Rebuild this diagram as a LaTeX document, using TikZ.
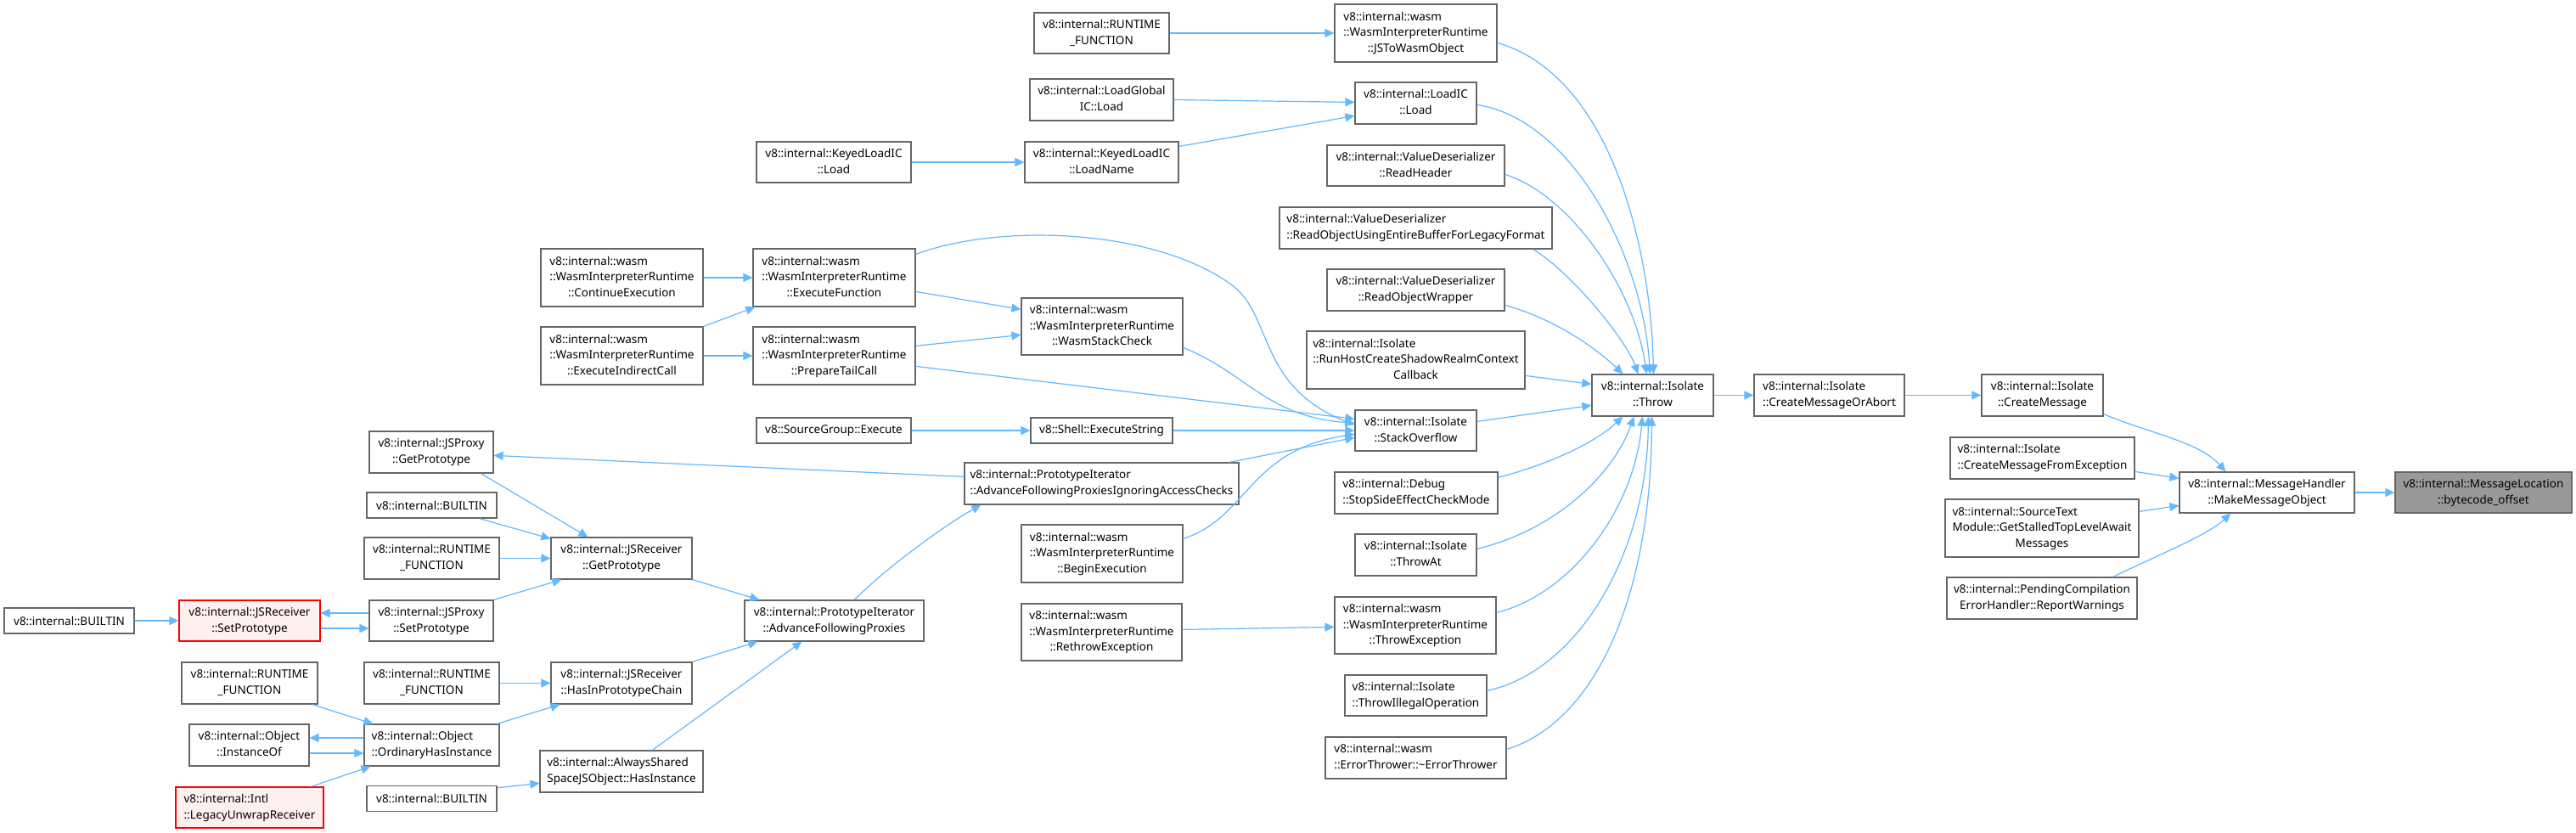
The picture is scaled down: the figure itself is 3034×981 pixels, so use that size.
\documentclass[tikz,border=0pt]{standalone}
\usepackage{fontspec}
\setmainfont{Noto Sans}
\usetikzlibrary{arrows.meta,calc}
\definecolor{edgec}{HTML}{63B8FF}
\definecolor{boxc}{HTML}{666666}
\definecolor{redfill}{HTML}{FFF0F0}
\definecolor{grayfill}{HTML}{999999}
\newcommand{\fs}{\fontsize{13.5}{18.7}\selectfont}
\newcommand{\Ll}[1]{\multicolumn{1}{@{}l@{}}{#1}}
\newcommand{\labB}[2]{\begin{tabular}{@{}c@{}}\Ll{#1}\\#2\end{tabular}}
\newcommand{\labC}[3]{\begin{tabular}{@{}c@{}}\Ll{#1}\\\Ll{#2}\\#3\end{tabular}}
\newcommand{\wasmlab}[1]{\labC{v8::internal::wasm}{::WasmInterpreterRuntime}{#1}}
\newcommand{\rtf}{\labB{v8::internal::RUNTIME}{\_FUNCTION}}
\tikzset{
  nb/.style 2 args={draw=boxc, line width=1.2pt, fill=white, inner sep=0pt,
    minimum width=#1, minimum height=#2, font=\fs, text=black},
  redn/.style={draw=red, fill=redfill},
  grayn/.style={fill=grayfill},
  conn/.style={draw=edgec, line width=1.2pt, -{Triangle[length=11pt,width=10pt]}},
}
\begin{document}
\begin{tikzpicture}[x=1pt,y=-1pt]
\path[fill=white] (0,0) rectangle (3034,981);
\useasboundingbox (0,0) rectangle (3034,981);
% column 1-2
\node[nb={153}{30}] (bl) at (81.5,731) {v8::internal::BUILTIN};
\node[nb={166}{48}, redn] (jrsp) at (294,731) {\labB{v8::internal::JSReceiver}{::SetPrototype}};
\node[nb={160}{49}] (rf2) at (294,804.5) {\rtf};
\node[nb={141}{49}] (inst) at (293.5,877.5) {\labB{v8::internal::Object}{::InstanceOf}};
\node[nb={174}{48}, redn] (legacy) at (294,951) {\labB{v8::internal::Intl}{::LegacyUnwrapReceiver}};
% column 3
\node[nb={146}{49}] (jpgp) at (508,532.5) {\labB{v8::internal::JSProxy}{::GetPrototype}};
\node[nb={153}{30}] (b3a) at (508.5,595) {v8::internal::BUILTIN};
\node[nb={159}{49}] (rf3a) at (508.5,657.5) {\rtf};
\node[nb={146}{48}] (jpsp) at (508,731) {\labB{v8::internal::JSProxy}{::SetPrototype}};
\node[nb={159}{49}] (rf3b) at (508.5,804.5) {\rtf};
\node[nb={159}{49}] (ohi) at (508.5,877.5) {\labB{v8::internal::Object}{::OrdinaryHasInstance}};
\node[nb={153}{30}] (b3b) at (508.5,940.5) {v8::internal::BUILTIN};
% column 4
\node[nb={191}{68}] (cont) at (732.5,327) {\wasmlab{::ContinueExecution}};
\node[nb={191}{68}] (indir) at (732.5,419) {\wasmlab{::ExecuteIndirectCall}};
\node[nb={166}{49}] (jrgp) at (732,657.5) {\labB{v8::internal::JSReceiver}{::GetPrototype}};
\node[nb={166}{49}] (hipc) at (732,804.5) {\labB{v8::internal::JSReceiver}{::HasInPrototypeChain}};
\node[nb={192}{49}] (ash) at (732,908.5) {\labB{v8::internal::AlwaysShared}{SpaceJSObject::HasInstance}};
% column 5
\node[nb={182}{48}] (klic) at (982,191) {\labB{v8::internal::KeyedLoadIC}{::Load}};
\node[nb={191}{68}] (exf) at (982.5,327) {\wasmlab{::ExecuteFunction}};
\node[nb={191}{68}] (ptc) at (982.5,419) {\wasmlab{::PrepareTailCall}};
\node[nb={182}{30}] (sge) at (982,507) {v8::SourceGroup::Execute};
\node[nb={211}{48}] (afp) at (982.5,731) {\labB{v8::internal::PrototypeIterator}{::AdvanceFollowingProxies}};
% column 6
\node[nb={159}{48}] (rft) at (1297.5,39) {\rtf};
\node[nb={169}{49}] (lgic) at (1297.5,117.5) {\labB{v8::internal::LoadGlobal}{IC::Load}};
\node[nb={181}{48}] (klln) at (1297.5,191) {\labB{v8::internal::KeyedLoadIC}{::LoadName}};
\node[nb={190}{67}] (wsc) at (1298,384.5) {\wasmlab{::WasmStackCheck}};
\node[nb={167}{30}] (ses) at (1297.5,507) {v8::Shell::ExecuteString};
\node[nb={323}{49}] (afpi) at (1297.5,569.5) {\labB{v8::internal::PrototypeIterator}{::AdvanceFollowingProxiesIgnoringAccessChecks}};
\node[nb={190}{68}] (beg) at (1298,652) {\wasmlab{::BeginExecution}};
\node[nb={189}{67}] (rethrow) at (1297.5,744.5) {\wasmlab{::RethrowException}};
% column 7
\node[nb={191}{68}] (jtw) at (1667.5,39) {\wasmlab{::JSToWasmObject}};
\node[nb={143}{49}] (lic) at (1667.5,121.5) {\labB{v8::internal::LoadIC}{::Load}};
\node[nb={209}{48}] (rh) at (1667.5,195) {\labB{v8::internal::ValueDeserializer}{::ReadHeader}};
\node[nb={321}{49}] (robl) at (1667.5,268.5) {\labB{v8::internal::ValueDeserializer}{::ReadObjectUsingEntireBufferForLegacyFormat}};
\node[nb={209}{49}] (row) at (1667.5,341.5) {\labB{v8::internal::ValueDeserializer}{::ReadObjectWrapper}};
\node[nb={257}{68}] (rhc) at (1667.5,424) {\labC{v8::internal::Isolate}{::RunHostCreateShadowRealmContext}{Callback}};
\node[nb={143}{48}] (so) at (1667.5,507) {\labB{v8::internal::Isolate}{::StackOverflow}};
\node[nb={192}{49}] (ssecm) at (1668,580.5) {\labB{v8::internal::Debug}{::StopSideEffectCheckMode}};
\node[nb={143}{49}] (ta) at (1667.5,653.5) {\labB{v8::internal::Isolate}{::ThrowAt}};
\node[nb={190}{67}] (te) at (1667,736.5) {\wasmlab{::ThrowException}};
\node[nb={167}{48}] (tio) at (1667.5,819) {\labB{v8::internal::Isolate}{::ThrowIllegalOperation}};
\node[nb={213}{49}] (et) at (1667.5,892.5) {\labB{v8::internal::wasm}{::ErrorThrower::\textasciitilde ErrorThrower}};
% right part
\node[nb={143}{49}] (thr) at (1946.5,465.5) {\labB{v8::internal::Isolate}{::Throw}};
\node[nb={177}{49}] (cmoa) at (2154.5,465.5) {\labB{v8::internal::Isolate}{::CreateMessageOrAbort}};
\node[nb={143}{49}] (cm) at (2405.5,465.5) {\labB{v8::internal::Isolate}{::CreateMessage}};
\node[nb={217}{49}] (cmfe) at (2405.5,539.5) {\labB{v8::internal::Isolate}{::CreateMessageFromException}};
\node[nb={228}{68}] (gstl) at (2405,622) {\labC{v8::internal::SourceText}{Module::GetStalledTopLevelAwait}{Messages}};
\node[nb={224}{49}] (rw) at (2405,704.5) {\labB{v8::internal::PendingCompilation}{ErrorHandler::ReportWarnings}};
\node[nb={206}{48}] (mmo) at (2670,580) {\labB{v8::internal::MessageHandler}{::MakeMessageObject}};
\node[nb={208}{48}, grayn] (bo) at (2925,580) {\labB{v8::internal::MessageLocation}{::bytecode\_offset}};
% edges, left part
\draw[conn] (bl.east) -- (jrsp.west);
\draw[conn] ($(jpsp.west)+(0,-9)$) -- ($(jrsp.east)+(0,-9)$);
\draw[conn] ($(jrsp.east)+(0,9)$) -- ($(jpsp.west)+(0,9)$);
\draw[conn] (jpsp.north east) -- ($(jrgp.south west)+(13,0)$);
\draw[conn] ($(jpgp.south west)+(132,0)$) -- ($(jrgp.north west)+(44,0)$);
\draw[conn] ($(b3a.south west)+(133,0)$) -- ($(jrgp.north west)+(0,2)$);
\draw[conn] (rf3a.east) -- (jrgp.west);
\draw[conn] (jrgp.south east) -- ($(afp.north west)+(18,0)$);
\draw[conn] ($(rf2.south east)+(-7,0)$) -- ($(ohi.north west)+(11,0)$);
\draw[conn] ($(ohi.west)+(0,-8.5)$) -- ($(inst.east)+(0,-8.5)$);
\draw[conn] ($(inst.east)+(0,9.5)$) -- ($(ohi.west)+(0,9.5)$);
\draw[conn] ($(legacy.north west)+(160,0)$) -- ($(ohi.south west)+(8,0)$);
\draw[conn] (rf3b.east) -- (hipc.west);
\draw[conn] ($(ohi.north east)+(-3,0)$) -- ($(hipc.south west)+(11,0)$);
\draw[conn] (hipc.north east) -- ($(afp.south west)+(16,0)$);
\draw[conn] ($(b3b.north east)+(0,3)$) -- ($(ash.north west)+(0,39)$);
\draw[conn] ($(ash.north west)+(133,0)$) -- ($(afp.south west)+(68,0)$);
\draw[conn] ($(afp.north west)+(130,0)$) .. controls (1040,672) and (1110,620) .. ($(afpi.south west)+(20,0)$);
\draw[conn] ($(afpi.north west)+(0,17)$) -- ($(jpgp.north east)+(0,29)$);
% middle
\draw[conn] (klic.east) -- (klln.west);
\draw[conn] (lgic.east) -- ($(lic.north west)+(0,24)$);
\draw[conn] ($(klln.north east)+(0,6)$) -- ($(lic.north west)+(0,40)$);
\draw[conn] (rft.east) -- (jtw.west);
\draw[conn] (cont.east) -- (exf.west);
\draw[conn] (indir.north east) -- ($(exf.south west)+(3,0)$);
\draw[conn] (indir.east) -- (ptc.west);
\draw[conn] ($(exf.north east)+(0,51)$) -- ($(wsc.north west)+(0,14)$);
\draw[conn] ($(ptc.north east)+(0,23)$) -- ($(wsc.north west)+(0,44)$);
\draw[conn] ($(ptc.north east)+(0,47)$) -- ($(so.north west)+(0,11)$);
\draw[conn] ($(exf.north east)+(0,7)$) .. controls (1180,262) and (1360,270) .. (1450,335) .. controls (1500,371) and (1480,455) .. ($(so.north west)+(0,18)$);
\draw[conn] ($(wsc.north east)+(0,59)$) .. controls (1470,440) and (1490,490) .. ($(so.north west)+(0,16)$);
\draw[conn] (sge.east) -- (ses.west);
\draw[conn] (ses.east) -- (so.west);
\draw[conn] ($(afpi.north east)+(-12,0)$) -- ($(so.north west)+(0,33)$);
\draw[conn] ($(beg.north east)+(0,17)$) .. controls (1470,610) and (1470,530) .. ($(so.north west)+(0,29)$);
\draw[conn] ($(rethrow.north east)+(0,31)$) -- ($(te.north west)+(0,36)$);
% into Throw
\draw[conn] ($(jtw.north east)+(0,46)$) .. controls (1900,90) and (1945,300) .. ($(thr.north west)+(73,0)$);
\draw[conn] ($(lic.north east)+(0,27)$) .. controls (1850,140) and (1935,300) .. ($(thr.north west)+(69,0)$);
\draw[conn] ($(rh.north east)+(0,35)$) .. controls (1850,230) and (1925,340) .. ($(thr.north west)+(65,0)$);
\draw[conn] ($(robl.south east)+(-23,0)$) .. controls (1850,320) and (1915,400) .. ($(thr.north west)+(55,0)$);
\draw[conn] ($(row.north east)+(0,43)$) .. controls (1830,375) and (1880,410) .. ($(thr.north west)+(37,0)$);
\draw[conn] ($(rhc.north east)+(0,53)$) -- ($(thr.north west)+(0,12)$);
\draw[conn] ($(so.north east)+(0,14)$) -- ($(thr.north west)+(0,37)$);
\draw[conn] ($(ssecm.north east)+(0,7)$) .. controls (1830,545) and (1880,520) .. ($(thr.south west)+(37,0)$);
\draw[conn] ($(ta.north east)+(0,18)$) .. controls (1830,625) and (1900,560) .. ($(thr.south west)+(50,0)$);
\draw[conn] ($(te.north east)+(0,19)$) .. controls (1850,700) and (1925,600) .. ($(thr.south west)+(60,0)$);
\draw[conn] ($(tio.north east)+(0,19)$) .. controls (1860,790) and (1940,650) .. ($(thr.south west)+(67,0)$);
\draw[conn] ($(et.north east)+(0,15)$) .. controls (1880,850) and (1945,700) .. ($(thr.south west)+(71,0)$);
% right part
\draw[conn] (thr.east) -- (cmoa.west);
\draw[conn] (cmoa.east) -- (cm.west);
\draw[conn] ($(cm.south east)+(0,-3)$) .. controls (2530,510) and (2590,520) .. ($(mmo.north west)+(55,0)$);
\draw[conn] ($(cmfe.north east)+(0,41)$) -- ($(mmo.north west)+(0,8)$);
\draw[conn] ($(gstl.north east)+(0,15)$) -- ($(mmo.north west)+(0,40)$);
\draw[conn] ($(rw.north west)+(196,0)$) .. controls (2550,650) and (2600,630) .. ($(mmo.south west)+(61,0)$);
\draw[conn] (mmo.east) -- (bo.west);
\end{tikzpicture}
\end{document}
